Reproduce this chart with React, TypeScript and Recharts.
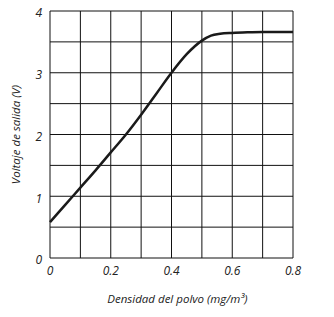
import React from 'react';
import { LineChart, Line, XAxis, YAxis, CartesianGrid } from 'recharts';

// dust density (mg/m3) vs output voltage (V)
const density = [0, 0.05, 0.1, 0.15, 0.2, 0.25, 0.3, 0.35, 0.4, 0.45, 0.5, 0.53, 0.56, 0.6, 0.65, 0.7, 0.8];
const voltage = [0.58, 0.86, 1.14, 1.42, 1.71, 2.0, 2.32, 2.66, 3.0, 3.3, 3.52, 3.6, 3.63, 3.645, 3.655, 3.66, 3.66];

const xTicks = [0, 0.1, 0.2, 0.3, 0.4, 0.5, 0.6, 0.7, 0.8];
const yTicks = [0, 0.5, 1, 1.5, 2, 2.5, 3, 3.5, 4];
const xLabels = ['0', '0.2', '0.4', '0.6', '0.8'];
const yLabels = ['0', '1', '2', '3', '4'];

const data = density.map((d, i) => ({ d, v: voltage[i] }));

const FONT = '"Open Sans", sans-serif';

const fmtX = (v: number) => {
  const s = v === 0 ? '0' : v.toFixed(1);
  return xLabels.includes(s) ? s : '';
};
const fmtY = (v: number) => {
  const s = String(v);
  return yLabels.includes(s) ? s : '';
};

export default function App() {
  return (
    <div style={{ position: 'absolute', left: 0, top: 0, width: 334, height: 317, background: '#fff' }}>
      <LineChart width={334} height={317} data={data} margin={{ top: 11, right: 41, bottom: 9, left: 0 }}>
        <CartesianGrid stroke="#111" strokeWidth={1} />
        <XAxis
          dataKey="d"
          type="number"
          domain={[0, 0.8]}
          ticks={xTicks}
          tickFormatter={fmtX}
          axisLine={false}
          tickLine={false}
          tickSize={0}
          tickMargin={8}
          height={50}
          tick={{ fill: '#222', fontSize: 12, fontStyle: 'italic', fontFamily: FONT }}
          label={{
            content: ({ viewBox }: any) => (
              <text
                x={viewBox.x + viewBox.width / 2 + 6}
                y={viewBox.y + 45}
                textAnchor="middle"
                fill="#222"
                fontSize={11.5}
                fontStyle="italic"
                fontFamily={FONT}
              >
                Densidad del polvo (mg/m³)
              </text>
            ),
          }}
        />
        <YAxis
          type="number"
          domain={[0, 4]}
          ticks={yTicks}
          tickFormatter={fmtY}
          axisLine={false}
          tickLine={false}
          tickSize={0}
          tickMargin={8}
          width={50}
          tick={{ fill: '#222', fontSize: 12, fontStyle: 'italic', fontFamily: FONT, dy: 2 }}
          label={{
            content: ({ viewBox }: any) => {
              const cx = 15;
              const cy = viewBox.y + viewBox.height / 2;
              return (
                <text
                  x={cx}
                  y={cy}
                  transform={`rotate(-90 ${cx} ${cy})`}
                  textAnchor="middle"
                  dominantBaseline="central"
                  fill="#222"
                  fontSize={11.5}
                  fontStyle="italic"
                  fontFamily={FONT}
                >
                  Voltaje de salida (V)
                </text>
              );
            },
          }}
        />
        <Line
          dataKey="v"
          type="monotone"
          stroke="#1a1a1a"
          strokeWidth={2.5}
          dot={false}
          isAnimationActive={false}
        />
      </LineChart>
    </div>
  );
}
